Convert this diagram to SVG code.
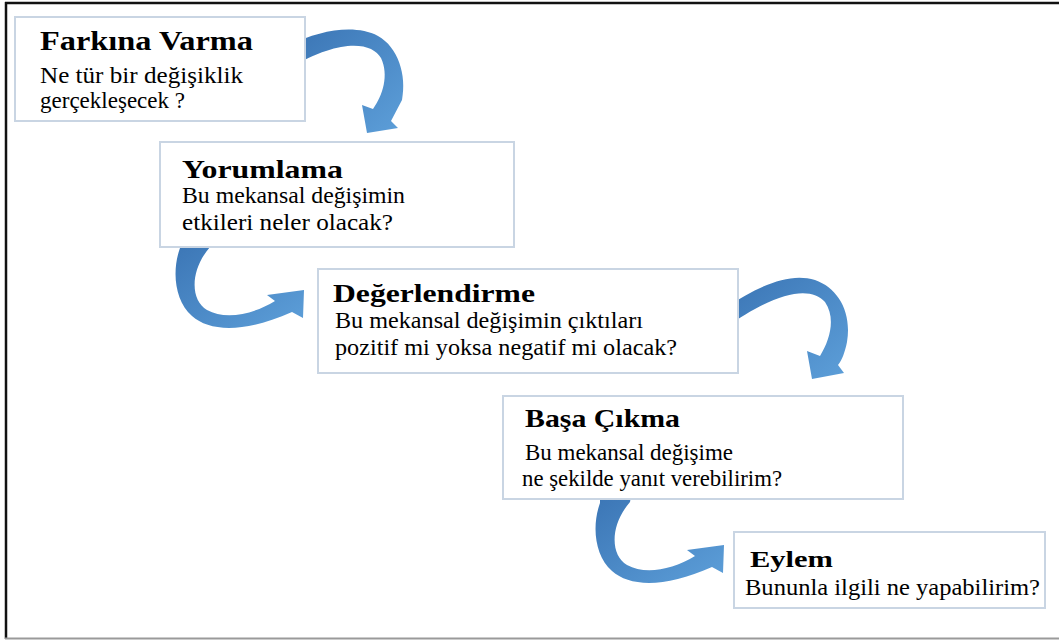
<svg xmlns="http://www.w3.org/2000/svg" width="1059" height="640" viewBox="0 0 1059 640">
<style>
.box{fill:#ffffff;stroke:#c9d5e3;stroke-width:2}
.arr{fill:url(#g)}
</style>
<defs>
<linearGradient id="g" x1="0" y1="0" x2="1" y2="1">
<stop offset="0" stop-color="#3a74b4"/>
<stop offset="1" stop-color="#5d9fd9"/>
</linearGradient>
</defs>
<rect x="0" y="0" width="1059" height="640" fill="#ffffff"/>
<g id="frame">
<line x1="5" y1="3" x2="1059" y2="3" stroke="#111" stroke-width="2.5"/>
<line x1="6" y1="2" x2="6" y2="639" stroke="#111" stroke-width="2.5"/>
<line x1="5" y1="638.5" x2="1059" y2="638.5" stroke="#9a9a9a" stroke-width="2"/>
</g>
<g id="connectors">
<path class="arr" d="M 290,45 C 320,30 355,24 378,36 C 398,47 407,75 402,100 L 391,121 L 398,128 L 367,133 L 362,105 L 373,109 C 383,95 389,75 381,58 C 372,42 340,38 290,68 Z"/>
<path class="arr" d="M 180,235 L 180,248 C 172,270 174,300 192,316 C 210,332 245,333 292,312 L 303,318 L 304,290 L 267,295 L 275,301 C 252,315 225,320 207,310 C 190,300 190,270 210,247 L 212,235 Z"/>
<path class="arr" d="M 725,308 C 760,285 790,272 815,280 C 838,288 852,312 847,342 C 845,352 842,360 838,365 L 844,373 L 812,379 L 807,351 L 820,356 C 830,340 836,318 825,302 C 810,285 775,292 725,328 Z"/>
<path class="arr" transform="translate(420,255)" d="M 180,235 L 180,248 C 172,270 174,300 192,316 C 210,332 245,333 292,312 L 303,318 L 304,290 L 267,295 L 275,301 C 252,315 225,320 207,310 C 190,300 190,270 210,247 L 212,235 Z"/>
</g>
<g font-family="'Liberation Serif', 'Times New Roman', serif" fill="#000">
<g id="node-farkina-varma">
<rect class="box" x="15" y="17" width="290" height="104"/>
<text x="40" y="50" font-size="27" font-weight="bold" textLength="213" lengthAdjust="spacingAndGlyphs">Farkına Varma</text>
<text x="40" y="83" font-size="23" textLength="203" lengthAdjust="spacingAndGlyphs">Ne tür bir değişiklik</text>
<text x="40" y="108" font-size="23" textLength="145" lengthAdjust="spacingAndGlyphs">gerçekleşecek ?</text>
</g>
<g id="node-yorumlama">
<rect class="box" x="160" y="142" width="354" height="105"/>
<text x="182" y="178" font-size="25" font-weight="bold" textLength="161" lengthAdjust="spacingAndGlyphs">Yorumlama</text>
<text x="182" y="203" font-size="23" textLength="223" lengthAdjust="spacingAndGlyphs">Bu mekansal değişimin</text>
<text x="182" y="230" font-size="23" textLength="211" lengthAdjust="spacingAndGlyphs">etkileri neler olacak?</text>
</g>
<g id="node-degerlendirme">
<rect class="box" x="318" y="269" width="420" height="104"/>
<text x="333" y="302" font-size="26" font-weight="bold" textLength="202" lengthAdjust="spacingAndGlyphs">Değerlendirme</text>
<text x="335" y="328" font-size="23" textLength="308" lengthAdjust="spacingAndGlyphs">Bu mekansal değişimin çıktıları</text>
<text x="335" y="355" font-size="23" textLength="342" lengthAdjust="spacingAndGlyphs">pozitif mi yoksa negatif mi olacak?</text>
</g>
<g id="node-basa-cikma">
<rect class="box" x="503" y="396" width="400" height="103"/>
<text x="525" y="427" font-size="25" font-weight="bold" textLength="155" lengthAdjust="spacingAndGlyphs">Başa Çıkma</text>
<text x="525" y="460" font-size="23" textLength="208" lengthAdjust="spacingAndGlyphs">Bu mekansal değişime</text>
<text x="522" y="486" font-size="23" textLength="260" lengthAdjust="spacingAndGlyphs">ne şekilde yanıt verebilirim?</text>
</g>
<g id="node-eylem">
<rect class="box" x="734" y="532" width="311" height="76"/>
<text x="750" y="567" font-size="24" font-weight="bold" textLength="83" lengthAdjust="spacingAndGlyphs">Eylem</text>
<text x="745" y="595" font-size="23" textLength="295" lengthAdjust="spacingAndGlyphs">Bununla ilgili ne yapabilirim?</text>
</g>
</g>
</svg>
